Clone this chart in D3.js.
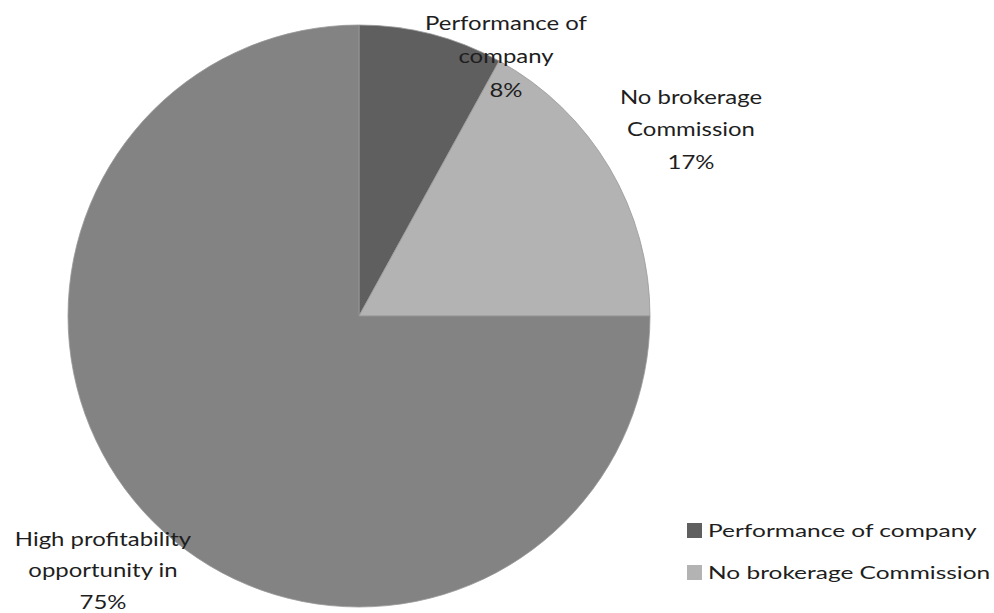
<!DOCTYPE html>
<html><head><meta charset="utf-8">
<script src="https://cdn.jsdelivr.net/npm/d3@7"></script>
<style>body{margin:0;background:#fff}svg{display:block}text{font-family:Lato,"Open Sans",sans-serif;fill:#1e1e1e}</style>
</head><body>
<svg id="c" width="994" height="613"></svg>
<script>
const categories = ["Performance of company", "No brokerage Commission", "High profitability opportunity in"];
const values = [8, 17, 75];
const labelLines = [["Performance of", "company", "8%"], ["No brokerage", "Commission", "17%"], ["High profitability", "opportunity in", "75%"]];
const colors = ["#5f5f5f", "#b3b3b3", "#838383"];

const svg = d3.select("#c");
const cx = 359, cy = 316, R = 291;
const g = svg.append("g").attr("transform", `translate(${cx},${cy})`);
const pie = d3.pie().sort(null).value(d => d)(values);
const arc = d3.arc().innerRadius(0).outerRadius(R);
g.selectAll("path").data(pie).join("path")
  .attr("d", arc).attr("fill", (d, i) => colors[i])
  .attr("stroke", "#999").attr("stroke-width", 0.8);

// label anchors (first baseline, centered)
const labelPos = [[506, 30], [691, 104], [103, 546]];
const lineH = [33.5, 32.5, 31.5];
const fs = 19, sx = 1.26;
labelLines.forEach((lines, i) => {
  const t = svg.append("g").attr("transform", `translate(${labelPos[i][0]},${labelPos[i][1]}) scale(${sx},1)`);
  lines.forEach((s, j) => {
    t.append("text").attr("x", 0).attr("y", j * lineH[i]).attr("text-anchor", "middle")
      .attr("font-size", fs).text(s);
  });
});

// legend
const lg = svg.append("g").attr("transform", "translate(687,523)");
categories.slice(0, 2).forEach((c, i) => {
  const row = lg.append("g").attr("transform", `translate(0,${i * 42})`);
  row.append("rect").attr("width", 15).attr("height", 15).attr("fill", colors[i]);
  row.append("g").attr("transform", "translate(21,14) scale(1.36,1)")
    .append("text").attr("font-size", 18).text(c);
});
</script>
</body></html>
